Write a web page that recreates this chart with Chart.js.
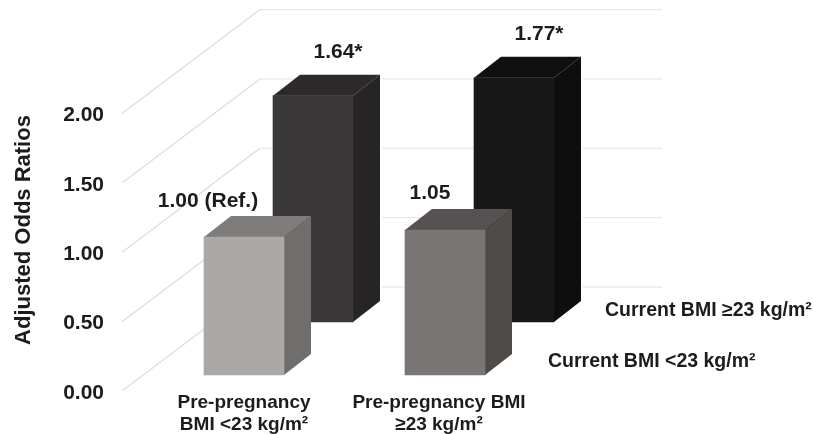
<!DOCTYPE html>
<html>
<head>
<meta charset="utf-8">
<style>
  html, body { margin: 0; padding: 0; background: #fff; }
  canvas { display: block; }
</style>
<script src="https://cdn.jsdelivr.net/npm/chart.js@4/dist/chart.umd.min.js"></script>
</head>
<body>
<canvas id="graph" width="813" height="434"></canvas>
<script>
const categories = [
  ["Pre-pregnancy", "BMI <23 kg/m²"],
  ["Pre-pregnancy BMI", "≥23 kg/m²"],
];
const seriesNames = ["Current BMI <23 kg/m²", "Current BMI ≥23 kg/m²"];
const currentLow = [1.0, 1.05];
const currentHigh = [1.64, 1.77];
const currentLowLabels = ["1.00 (Ref.)", "1.05"];
const currentHighLabels = ["1.64*", "1.77*"];
const yTicks = [0, 0.5, 1, 1.5, 2];
const axisTitle = "Adjusted Odds Ratios";

const FONT = "'Liberation Sans', Arial, sans-serif";
const TEXT = "#1c1c1c";

// how far the box of a bar goes back, and the whole floor
const barDepth = { x: 27, y: -21 };
const wallDepth = { x: 138, y: -104 };

// faces of each bar, front colour comes from the dataset
const lowFaces = [
  { front: "#aba9a8", top: "#7f7d7c", side: "#6f6e6d" },
  { front: "#787574", top: "#555251", side: "#4e4b49" },
];
const highFaces = [
  { front: "#3a3839", top: "#2c2a2b", side: "#262425" },
  { front: "#191818", top: "#111010", side: "#0e0e0e" },
];

function poly(ctx, pts, fill) {
  ctx.beginPath();
  pts.forEach((p, i) => (i ? ctx.lineTo(p[0], p[1]) : ctx.moveTo(p[0], p[1])));
  ctx.closePath();
  ctx.fillStyle = fill;
  ctx.fill();
}

const box3d = {
  id: "box3d",
  beforeDatasetsDraw(chart) {
    const { ctx, scales, chartArea } = chart;
    ctx.save();
    ctx.lineWidth = 1.3;
    scales.y.ticks.forEach((t) => {
      const y = scales.y.getPixelForValue(t.value);
      const x0 = chartArea.left;
      ctx.strokeStyle = "#dddddd";
      ctx.beginPath();
      ctx.moveTo(x0, y);
      ctx.lineTo(x0 + wallDepth.x, y + wallDepth.y);
      ctx.stroke();
      ctx.strokeStyle = "#e8e8e8";
      ctx.beginPath();
      ctx.moveTo(x0 + wallDepth.x, y + wallDepth.y);
      ctx.lineTo(chartArea.right, y + wallDepth.y);
      ctx.stroke();
    });
    ctx.restore();
  },
  beforeDatasetDraw(chart, args) {
    const { ctx } = chart;
    const ds = chart.data.datasets[args.index];
    const faces = ds.faces;
    const dx = barDepth.x;
    const dy = barDepth.y;
    chart.getDatasetMeta(args.index).data.forEach((bar, i) => {
      const l = bar.x - bar.width / 2;
      const r = bar.x + bar.width / 2;
      // the wall lines stop just short of the back boxes
      if (ds.whiteEdge) {
        ctx.save();
        ctx.strokeStyle = "#fff";
        ctx.lineWidth = 4;
        ctx.beginPath();
        ctx.moveTo(r + dx, bar.y + dy);
        ctx.lineTo(r + dx, bar.base + dy);
        ctx.stroke();
        ctx.restore();
      }
      poly(ctx, [[l, bar.y], [r, bar.y], [r + dx, bar.y + dy], [l + dx, bar.y + dy]], faces[i].top);
      poly(ctx, [[r, bar.y], [r + dx, bar.y + dy], [r + dx, bar.base + dy], [r, bar.base]], faces[i].side);
    });
  },
  afterDatasetsDraw(chart) {
    const { ctx } = chart;
    ctx.save();
    ctx.fillStyle = TEXT;
    ctx.textBaseline = "middle";

    // value labels above the boxes
    ctx.font = "bold 21px " + FONT;
    ctx.textAlign = "center";
    chart.data.datasets.forEach((ds, d) => {
      chart.getDatasetMeta(d).data.forEach((bar, i) => {
        const off = ds.labelOffsets[i];
        ctx.fillText(ds.valueLabels[i], bar.x + off[0], bar.y + off[1]);
      });
    });

    // series names sit on the right of the floor, no legend box
    ctx.font = "bold 19.5px " + FONT;
    ctx.textAlign = "left";
    chart.data.datasets.forEach((ds, d) => {
      const last = chart.getDatasetMeta(d).data[1];
      ctx.fillText(ds.label, last.x + ds.nameOffset[0], last.base + ds.nameOffset[1]);
    });

    // axis title is not centred on the axis here, so it is drawn by hand
    ctx.font = "bold 22px " + FONT;
    ctx.textAlign = "center";
    ctx.translate(24, 230);
    ctx.rotate(-Math.PI / 2);
    ctx.fillText(axisTitle, 0, 0);
    ctx.restore();
  },
};

const pxPerUnit = 138.7;
const barPxPerUnit = 138;

const chart = new Chart(document.getElementById("graph"), {
  type: "bar",
  plugins: [box3d],
  data: {
    datasets: [
      {
        label: seriesNames[0],
        data: categories.map((c, i) => ({ x: i, y: currentLow[i] })),
        backgroundColor: lowFaces.map((f) => f.front),
        faces: lowFaces,
        valueLabels: currentLowLabels,
        labelOffsets: [[-36, -36], [-15, -37]],
        nameOffset: [103, -13],
        xAxisID: "x",
        yAxisID: "yFront",
        order: 0,
      },
      {
        label: seriesNames[1],
        data: categories.map((c, i) => ({ x: i, y: currentHigh[i] })),
        backgroundColor: highFaces.map((f) => f.front),
        faces: highFaces,
        whiteEdge: true,
        valueLabels: currentHighLabels,
        labelOffsets: [[25, -43], [25, -44]],
        nameOffset: [91, -11],
        xAxisID: "xBack",
        yAxisID: "yBack",
        order: 1,
      },
    ],
  },
  options: {
    responsive: false,
    animation: false,
    grouped: false,
    barThickness: 80,
    layout: { padding: { top: 10, right: 151, left: 0, bottom: 0 } },
    plugins: { legend: { display: false }, tooltip: { enabled: false } },
    scales: {
      x: {
        type: "linear",
        offset: false,
        min: -122 / 201,
        max: 418 / 201,
        grid: { display: false, drawTicks: false },
        border: { display: false },
        afterBuildTicks(scale) {
          scale.ticks = [{ value: 0 }, { value: 0.97 }];
        },
        afterFit(scale) {
          scale.height = 43;
          scale.paddingLeft = 0;
          scale.paddingRight = 0;
        },
        ticks: {
          autoSkip: false,
          maxRotation: 0,
          padding: 1,
          color: TEXT,
          font: { family: FONT, weight: "bold", size: 19, lineHeight: 1.16 },
          callback: (value, index) => categories[index],
        },
      },
      xBack: { type: "linear", display: false, offset: false, min: -191 / 201, max: 349 / 201 },
      y: {
        position: "left",
        min: 0,
        max: 381 / pxPerUnit,
        grid: { display: false, drawTicks: false },
        border: { display: false },
        afterBuildTicks(scale) {
          scale.ticks = yTicks.map((v) => ({ value: v }));
        },
        afterFit(scale) {
          scale.width = 122;
          scale.paddingTop = 0;
          scale.paddingBottom = 0;
        },
        ticks: {
          padding: 18,
          labelOffset: 2,
          color: TEXT,
          font: { family: FONT, weight: "bold", size: 21 },
          callback: (value) => value.toFixed(2),
        },
      },
      yFront: { display: false, min: -16 / barPxPerUnit, max: 365 / barPxPerUnit },
      yBack: { display: false, min: -69 / barPxPerUnit, max: 312 / barPxPerUnit },
    },
  },
});
</script>
</body>
</html>
